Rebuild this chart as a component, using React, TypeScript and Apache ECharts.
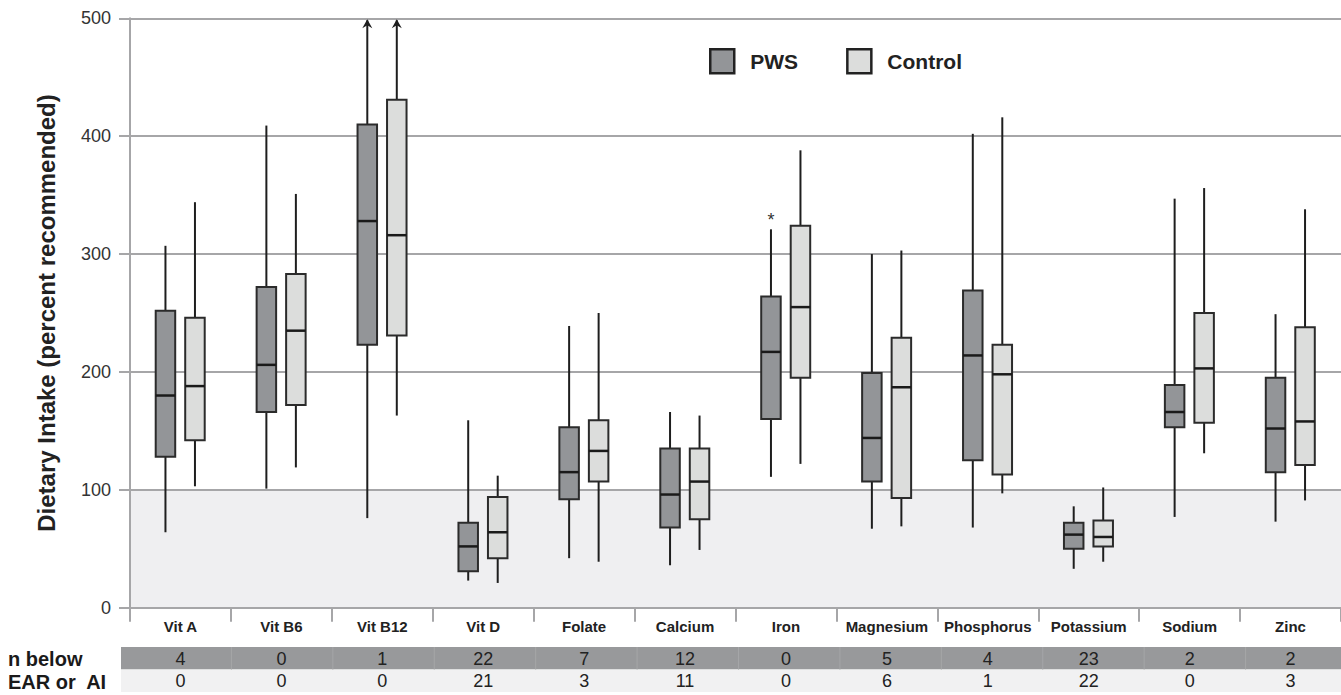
import React, { useEffect, useRef } from "react";
import * as echarts from "echarts";

// ---------- data ----------
const categories = [
  "Vit A", "Vit B6", "Vit B12", "Vit D", "Folate", "Calcium",
  "Iron", "Magnesium", "Phosphorus", "Potassium", "Sodium", "Zinc",
];
// PWS group: lower whisker, Q1, median, Q3, upper whisker (percent of recommended)
const pwsLow = [64, 101, 76, 23, 42, 36, 111, 67, 68, 33, 77, 73];
const pwsQ1 = [128, 166, 223, 31, 92, 68, 160, 107, 125, 50, 153, 115];
const pwsMedian = [180, 206, 328, 52, 115, 96, 217, 144, 214, 62, 166, 152];
const pwsQ3 = [252, 272, 410, 72, 153, 135, 264, 199, 269, 72, 189, 195];
const pwsHigh = [307, 409, 500, 159, 239, 166, 321, 300, 402, 86, 347, 249];
// Control group
const controlLow = [103, 119, 163, 21, 39, 49, 122, 69, 97, 39, 131, 91];
const controlQ1 = [142, 172, 231, 42, 107, 75, 195, 93, 113, 52, 157, 121];
const controlMedian = [188, 235, 316, 64, 133, 107, 255, 187, 198, 60, 203, 158];
const controlQ3 = [246, 283, 431, 94, 159, 135, 324, 229, 223, 74, 250, 238];
const controlHigh = [344, 351, 500, 112, 250, 163, 388, 303, 416, 102, 356, 338];
// upper whiskers that continue beyond the axis (drawn with an arrow)
const whiskerBeyondAxis = ["Vit B12"];
// PWS outliers (category, value)
const pwsOutliers: [string, number][] = [["Iron", 332]];
// table: n below EAR or AI
const nBelowRow1 = [4, 0, 1, 22, 7, 12, 0, 5, 4, 23, 2, 2];
const nBelowRow2 = [0, 0, 0, 21, 3, 11, 0, 6, 1, 22, 0, 3];
const rowLabels = ["n below", "EAR or  AI"];
const yMin = 0;
const yMax = 500;
const yInterval = 100;

// ---------- layout / style ----------
const W = 1341;
const H = 695;
const GRID_LEFT = 130;
const GRID_RIGHT = -6;
const GRID_TOP = 18.3;
const GRID_BOTTOM = 87.3;
const BOX_W = 19.5;
const PWS_OFFSET = -15;
const CONTROL_OFFSET = 14.5;
const PWS_FILL = "#939598";
const CONTROL_FILL = "#dcdddc";
const GRID_GRAY = "#a6a6a8";
const FONT = "'Liberation Sans', Arial, Helvetica, sans-serif";
const ROW1_TOP = 647;
const ROW_H = 22.5;

const renderBox = (offsetPx: number, fill: string) => (params: any, api: any) => {
  const i = api.value(0);
  const lo = api.value(1);
  const q1 = api.value(2);
  const md = api.value(3);
  const q3 = api.value(4);
  const hi = api.value(5);
  const cx = api.coord([i, 0])[0] + offsetPx;
  const py = (v: number) => api.coord([i, v])[1];
  const hw = BOX_W / 2;
  const beyond = whiskerBeyondAxis.includes(categories[i]);
  const yHi = py(hi) + (beyond ? 2 : 0);
  const children: any[] = [
    { type: "line", shape: { x1: cx, y1: py(lo), x2: cx, y2: py(q1) }, style: { stroke: "#1e1e1e", lineWidth: 2 } },
    { type: "line", shape: { x1: cx, y1: py(q3), x2: cx, y2: yHi }, style: { stroke: "#1e1e1e", lineWidth: 2 } },
    {
      type: "rect",
      shape: { x: cx - hw, y: py(q3), width: BOX_W, height: py(q1) - py(q3) },
      style: { fill, stroke: "#2b2b2b", lineWidth: 2 },
    },
    { type: "line", shape: { x1: cx - hw, y1: py(md), x2: cx + hw, y2: py(md) }, style: { stroke: "#1a1a1a", lineWidth: 2.5 } },
  ];
  if (beyond) {
    children.push({
      type: "polygon",
      shape: { points: [[cx, yHi - 1], [cx - 5, yHi + 8], [cx, yHi + 5], [cx + 5, yHi + 8]] },
      style: { fill: "#1e1e1e" },
    });
  }
  return { type: "group", children };
};

function buildOption() {
  const pwsData = categories.map((_, i) => [i, pwsLow[i], pwsQ1[i], pwsMedian[i], pwsQ3[i], pwsHigh[i]]);
  const controlData = categories.map((_, i) => [
    i, controlLow[i], controlQ1[i], controlMedian[i], controlQ3[i], controlHigh[i],
  ]);
  const outlierData = pwsOutliers.map(([c, v]) => [categories.indexOf(c), v]);

  const plotW = W - GRID_LEFT - GRID_RIGHT;
  const colW = plotW / categories.length;
  const graphics: any[] = [
    { type: "rect", z: -1, shape: { x: 121, y: ROW1_TOP, width: W - 121, height: ROW_H }, style: { fill: "#98999b" } },
    { type: "rect", z: -1, shape: { x: 121, y: ROW1_TOP + ROW_H, width: W - 121, height: ROW_H }, style: { fill: "#f1f1f2" } },
  ];
  rowLabels.forEach((t, r) => {
    graphics.push({
      type: "text",
      x: 8,
      y: ROW1_TOP + ROW_H * r + ROW_H / 2 + 1,
      style: { text: t, font: `bold 20px ${FONT}`, fill: "#1a1a1a", verticalAlign: "middle", align: "left" },
    });
  });
  for (let k = 1; k < categories.length; k++) {
    const x = GRID_LEFT + k * colW;
    graphics.push({
      type: "line", z: -1,
      shape: { x1: x, y1: ROW1_TOP, x2: x, y2: ROW1_TOP + ROW_H },
      style: { stroke: "#a5a6a8", lineWidth: 1 },
    });
  }

  const tableAxis = (offset: number, values: number[]) => ({
    type: "category",
    data: categories,
    position: "bottom",
    offset,
    axisLine: { show: false },
    axisTick: { show: false },
    axisLabel: {
      interval: 0, margin: 0, fontSize: 18, color: "#222", fontFamily: FONT,
      formatter: (_v: string, i: number) => String(values[i]),
    },
  });

  return {
    animation: false,
    textStyle: { fontFamily: FONT },
    grid: { left: GRID_LEFT, right: GRID_RIGHT, top: GRID_TOP, bottom: GRID_BOTTOM, containLabel: false },
    legend: {
      left: 704,
      top: 43,
      selectedMode: false,
      itemWidth: 24,
      itemHeight: 24,
      itemGap: 48,
      icon: "rect",
      textStyle: { fontSize: 21, fontWeight: "bold", color: "#222", fontFamily: FONT, padding: [0, 0, 0, 11] },
      data: [
        { name: "PWS", icon: "rect", itemStyle: { color: PWS_FILL, borderColor: "#222", borderWidth: 2.5 } },
        { name: "Control", icon: "rect", itemStyle: { color: CONTROL_FILL, borderColor: "#222", borderWidth: 2.5 } },
      ],
    },
    xAxis: [
      {
        type: "category",
        data: categories,
        boundaryGap: true,
        position: "bottom",
        axisLine: { show: true, lineStyle: { color: GRID_GRAY, width: 2 } },
        axisTick: { show: true, interval: 0, length: 14, lineStyle: { color: GRID_GRAY, width: 2 } },
        axisLabel: { interval: 0, fontSize: 15, fontWeight: "bold", color: "#222", margin: 11, fontFamily: FONT },
        splitLine: { show: false },
      },
      tableAxis(42, nBelowRow1),
      tableAxis(42 + ROW_H, nBelowRow2),
    ],
    yAxis: {
      type: "value",
      min: yMin,
      max: yMax,
      interval: yInterval,
      name: "Dietary Intake (percent recommended)",
      nameLocation: "middle",
      nameGap: 72,
      nameTextStyle: { fontSize: 24, fontWeight: "bold", color: "#222", fontFamily: FONT },
      axisLine: { show: true, lineStyle: { color: GRID_GRAY, width: 2 } },
      axisTick: { show: true, length: 11, lineStyle: { color: GRID_GRAY, width: 2 } },
      axisLabel: { fontSize: 18, color: "#333", margin: 19, fontFamily: FONT },
      splitLine: { show: true, lineStyle: { color: GRID_GRAY, width: 2 } },
      splitArea: {
        show: true,
        areaStyle: { color: ["#efeff1", "rgba(0,0,0,0)", "rgba(0,0,0,0)", "rgba(0,0,0,0)", "rgba(0,0,0,0)"] },
      },
    },
    graphic: graphics,
    series: [
      {
        type: "custom",
        name: "PWS",
        xAxisIndex: 0,
        data: pwsData,
        encode: { x: 0, y: [1, 2, 3, 4, 5] },
        itemStyle: { color: PWS_FILL, borderColor: "#222", borderWidth: 2.5 },
        renderItem: renderBox(PWS_OFFSET, PWS_FILL),
        clip: false,
      },
      {
        type: "custom",
        name: "Control",
        xAxisIndex: 0,
        data: controlData,
        encode: { x: 0, y: [1, 2, 3, 4, 5] },
        itemStyle: { color: CONTROL_FILL, borderColor: "#222", borderWidth: 2.5 },
        renderItem: renderBox(CONTROL_OFFSET, CONTROL_FILL),
        clip: false,
      },
      {
        type: "custom",
        name: "PWS outliers",
        xAxisIndex: 0,
        data: outlierData,
        encode: { x: 0, y: 1 },
        renderItem: (params: any, api: any) => {
          const p = api.coord([api.value(0), api.value(1)]);
          return {
            type: "text",
            x: p[0] + PWS_OFFSET,
            y: p[1] + 4,
            style: { text: "*", font: `18px ${FONT}`, fill: "#333", align: "center", verticalAlign: "middle" },
          };
        },
      },
    ],
  };
}

export default function App() {
  const ref = useRef<HTMLDivElement>(null);
  useEffect(() => {
    if (!ref.current) return;
    const chart = echarts.init(ref.current, undefined, { renderer: "svg" });
    chart.setOption(buildOption() as any);
    return () => chart.dispose();
  }, []);
  return (
    <div
      ref={ref}
      style={{ position: "absolute", left: 0, top: 0, width: W, height: H, background: "#fff" }}
    />
  );
}
